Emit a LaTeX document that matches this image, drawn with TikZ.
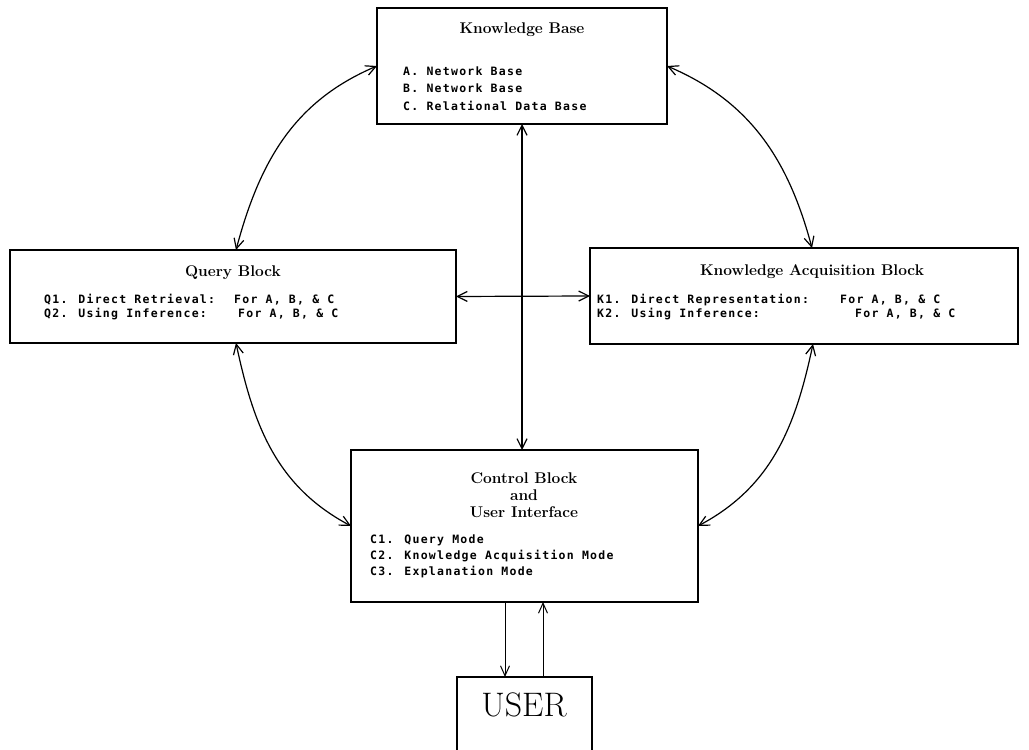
\documentclass[tikz,border=0pt]{standalone}
\usepackage{fontspec}
\newfontfamily\itemfont[LetterSpace=11]{DejaVu Sans Mono}
\usetikzlibrary{arrows.meta}
\begin{document}
\begin{tikzpicture}[x=1pt,y=1pt,
  block/.style={draw, line width=1.2pt, inner sep=0pt, outer sep=0pt, anchor=north west},
  heading/.style={font=\fontsize{15.5}{17}\selectfont\bfseries\addfontfeatures{FakeBold=1.5}, align=center, inner sep=0pt},
  entry/.style={font=\itemfont\fontsize{11.5}{13}\selectfont\bfseries, anchor=base west, inner sep=0pt},
  link/.style={line width=1.2pt, {Straight Barb[length=10pt,width=10pt]}-{Straight Barb[length=10pt,width=10pt]}},
  oneway/.style={line width=1pt, -{Straight Barb[length=10pt,width=9pt]}}
]
\useasboundingbox (0,0) rectangle (1029,750);
\fill[white] (0,0) rectangle (1029,750);

% the four blocks and the user box (its lower edge lies below the page)
\node[block, minimum width=290, minimum height=116] (kb) at (377,742) {};
\node[block, minimum width=446, minimum height=93] (query) at (10,500) {};
\node[block, minimum width=428, minimum height=96] (kab) at (590,502) {};
\node[block, minimum width=347, minimum height=152] (ctrl) at (351,300) {};
\node[block, minimum width=135, minimum height=95] (user) at (457,73) {};

% knowledge base
\node[heading] (kbtitle) at (522,720) {Knowledge Base};
\node[entry] (kba) at (403,674) {A. Network Base};
\node[entry] (kbb) at (403,657) {B. Network Base};
\node[entry] (kbc) at (403,639) {C. Relational Data Base};

% query block
\node[heading] (qtitle) at (233,477) {Query Block};
\node[entry] (q1) at (44,446) {Q1. Direct Retrieval:};
\node[entry] (q1f) at (234,446) {For A, B, \& C};
\node[entry] (q2) at (44,432) {Q2. Using Inference:};
\node[entry] (q2f) at (238,432) {For A, B, \& C};

% knowledge acquisition block
\node[heading] (ktitle) at (812,478) {Knowledge Acquisition Block};
\node[entry] (k1) at (597,446) {K1. Direct Representation:};
\node[entry] (k1f) at (840,446) {For A, B, \& C};
\node[entry] (k2) at (597,432) {K2. Using Inference:};
\node[entry] (k2f) at (855,432) {For A, B, \& C};

% control block
\node[heading] (ctitle) at (524,255) {Control Block\\and\\User Interface};
\node[entry] (c1) at (370,206) {C1. Query Mode};
\node[entry] (c2) at (370,190) {C2. Knowledge Acquisition Mode};
\node[entry] (c3) at (370,174) {C3. Explanation Mode};

% user
\node[font=\fontsize{34}{36}\selectfont\addfontfeatures{FakeBold=3}, inner sep=0pt] (usertext) at (524,45) {USER};

% connectors
\draw[link] (kb.west) to[out=203, in=75] ([xshift=3pt]query.north);
\draw[link] (kb.east) to[out=-23, in=105] ([xshift=8pt]kab.north);
\draw[link] ([xshift=3pt]query.south) to[out=-78, in=152] (ctrl.west);
\draw[link] ([xshift=9pt]kab.south) to[out=-102, in=28] (ctrl.east);
\draw[link] (kb.south) -- (kb.south |- ctrl.north);
\draw[link] (query.east) -- (kab.west);
\draw[oneway] ([xshift=-19.5pt]ctrl.south) -- ([xshift=-19.5pt]user.north);
\draw[oneway] ([xshift=18.5pt]user.north) -- ([xshift=18.5pt]ctrl.south);
\end{tikzpicture}
\end{document}
